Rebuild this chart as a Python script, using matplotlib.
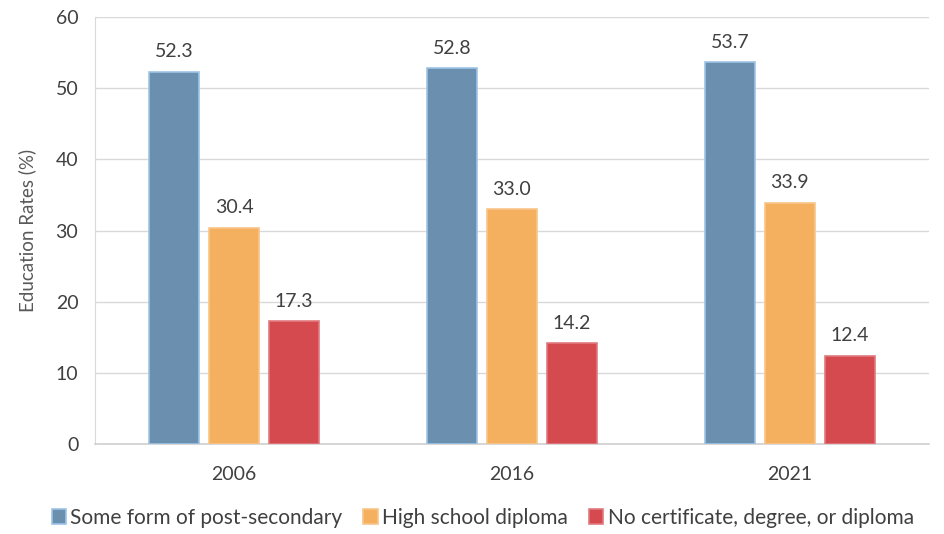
import numpy as np
import matplotlib.pyplot as plt

plt.rcParams['font.family'] = ['Lato', 'DejaVu Sans']

years = ['2006', '2016', '2021']
series_names = ['Some form of post-secondary', 'High school diploma',
                'No certificate, degree, or diploma']
post_secondary = [52.3, 52.8, 53.7]
high_school = [30.4, 33.0, 33.9]
no_certificate = [17.3, 14.2, 12.4]

colors = ['#6b8fae', '#f5b05f', '#d44a4e']
edges = ['#9dc3e6', '#f8c58a', '#e07a7d']

fig = plt.figure(figsize=(9.44, 5.34), dpi=100)
ax = fig.add_axes([0.1006, 0.1685, 0.8834, 0.7995])

x = np.arange(len(years))
width = 0.18
offsets = [-0.216, 0.0, 0.216]
for vals, name, c, e, off in zip([post_secondary, high_school, no_certificate],
                                 series_names, colors, edges, offsets):
    bars = ax.bar(x + off, vals, width, color=c, edgecolor=e, linewidth=1.2,
                  label=name, zorder=3)
    for b, v in zip(bars, vals):
        ax.text(b.get_x() + b.get_width() / 2, v + 1.6, '%.1f' % v,
                ha='center', va='bottom', fontsize=14, color='#404040')

ax.set_xlim(-0.5, 2.5)
ax.set_ylim(0, 60)
ax.set_yticks(range(0, 61, 10))
ax.set_xticks(x)
ax.set_xticklabels(years)
ax.tick_params(axis='both', length=0, labelsize=14, colors='#404040')
ax.tick_params(axis='x', pad=16)
ax.tick_params(axis='y', pad=12)
ax.grid(axis='y', color='#d9d9d9', linewidth=1, zorder=0)
for s in ['top', 'right']:
    ax.spines[s].set_visible(False)
ax.spines['left'].set_color('#d9d9d9')
ax.spines['bottom'].set_color('#d0d0d0')
ax.spines['bottom'].set_linewidth(1.2)
ax.set_ylabel('Education Rates (%)', fontsize=13.5, color='#595959', labelpad=14)

ax.legend(loc='upper center', bbox_to_anchor=(0.465, -0.105), ncol=3, frameon=False,
          fontsize=15, handlelength=0.7, handleheight=0.7, handletextpad=0.2,
          columnspacing=1.0, labelcolor='#404040')

fig.savefig('out.png', dpi=100)
